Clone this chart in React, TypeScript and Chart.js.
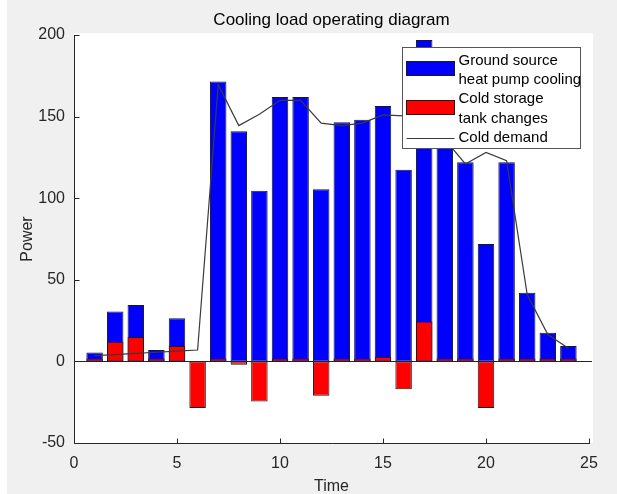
import React, { useEffect, useRef } from "react";
import { Chart, registerables } from "chart.js";

Chart.register(...registerables);

// ---- data ----
const hours = [1, 2, 3, 4, 5, 6, 7, 8, 9, 10, 11, 12, 13, 14, 15, 16, 17, 18, 19, 20, 21, 22, 23, 24];
const heatPumpCooling = [5.4, 30.5, 34.6, 7, 26.5, 0, 171.5, 141, 104.5, 162, 162, 105.5, 146.5, 148, 156.5, 117.5, 197, 140, 122, 72, 122, 42, 17.5, 9.5];
const storageChange = [1.8, 12, 15, 1.8, 9.5, -28.5, 1.8, -2, -24.5, 1.8, 1.8, -21, 1.8, 1.8, 2.8, -17, 24.5, 1.8, 1.8, -28.5, 1.8, 1.8, 1.8, 1.8];
const coldDemand = [3.5, 4.2, 4.9, 5.6, 6.3, 7, 169.5, 144.5, 151.5, 160, 160, 146, 144.5, 146, 151, 150.5, 148, 136, 121, 128, 123, 41, 16.5, 8];
const xTicks = [0, 5, 10, 15, 20, 25];
const yTicks = [-50, 0, 50, 100, 150, 200];
const chartTitle = "Cooling load operating diagram";
const xTitle = "Time";
const yTitle = "Power";
const seriesNames = ["Ground source heat pump cooling", "Cold storage tank changes", "Cold demand"];
const legendLines = [["Ground source", "heat pump cooling"], ["Cold storage", "tank changes"], ["Cold demand"]];

const FONT = '"Liberation Sans", Arial, Helvetica, sans-serif';
const AXIS = "#262626";
const BLUE = "#0000ff";
const RED = "#ff0000";
const LINE = "#3a3a3a";

const figurePlugin = {
  id: "figure",
  beforeDraw(chart: any) {
    const { ctx, chartArea: a } = chart;
    ctx.save();
    ctx.fillStyle = "#f0f0f0";
    ctx.fillRect(0, 0, chart.width, chart.height);
    ctx.fillStyle = "#ffffff";
    ctx.fillRect(a.left, a.top - 2, a.right - a.left + 4, a.bottom - a.top + 2);
    ctx.restore();
  },
  beforeDatasetsDraw(chart: any) {
    const { ctx, chartArea: a } = chart;
    const y0 = Math.round(chart.scales.y.getPixelForValue(0)) + 0.5;
    ctx.save();
    ctx.strokeStyle = AXIS;
    ctx.lineWidth = 1;
    ctx.beginPath();
    ctx.moveTo(a.left, y0);
    ctx.lineTo(a.right + 3, y0);
    ctx.stroke();
    ctx.restore();
  },
  afterDraw(chart: any) {
    const { ctx, chartArea: a } = chart;
    const xs = chart.scales.x;
    const ys = chart.scales.y;
    ctx.save();
    // axes
    ctx.strokeStyle = AXIS;
    ctx.lineWidth = 1;
    const lx = Math.round(a.left) + 0.5;
    const by = Math.round(a.bottom) + 0.5;
    ctx.beginPath();
    ctx.moveTo(lx, a.top);
    ctx.lineTo(lx, by);
    ctx.lineTo(a.right + 1, by);
    yTicks.forEach((v) => {
      const y = Math.round(ys.getPixelForValue(v)) + 0.5;
      ctx.moveTo(lx, y);
      ctx.lineTo(lx + 5, y);
    });
    xTicks.forEach((v) => {
      const x = Math.round(xs.getPixelForValue(v)) + 0.5;
      ctx.moveTo(x, by);
      ctx.lineTo(x, by - 5);
    });
    ctx.stroke();

    // title
    ctx.fillStyle = "#000";
    ctx.font = `17px ${FONT}`;
    ctx.textAlign = "center";
    ctx.textBaseline = "middle";
    ctx.fillText(chartTitle, (a.left + a.right) / 2, a.top - 15);

    // legend
    const w = 178;
    const h = 101;
    const gx = Math.round(a.right - 9 - w) + 0.5;
    const gy = Math.round(a.top + 12) + 0.5;
    ctx.fillStyle = "#fff";
    ctx.fillRect(gx, gy, w, h);
    ctx.strokeStyle = "#555";
    ctx.strokeRect(gx, gy, w, h);

    const rowH = 19.4;
    const textX = gx + 56;
    ctx.font = `15px ${FONT}`;
    ctx.textAlign = "left";
    ctx.fillStyle = "#000";
    let row = 0;
    legendLines.forEach((lines) => {
      lines.forEach((t) => {
        ctx.fillText(t, textX, gy + 13 + row * rowH);
        row++;
      });
    });
    // swatches
    const sw = 48;
    const sh = 14;
    const sx = gx + 4;
    ctx.strokeStyle = "#1a1a1a";
    ctx.fillStyle = BLUE;
    ctx.fillRect(sx, gy + 14, sw, sh);
    ctx.strokeRect(sx, gy + 14, sw, sh);
    ctx.fillStyle = RED;
    ctx.fillRect(sx, gy + 53, sw, sh);
    ctx.strokeRect(sx, gy + 53, sw, sh);
    ctx.strokeStyle = LINE;
    ctx.beginPath();
    const ly = Math.round(gy + 13 + 4 * rowH) + 0.5;
    ctx.moveTo(sx, ly);
    ctx.lineTo(sx + sw, ly);
    ctx.stroke();
    ctx.restore();
  },
};

export default function App() {
  const ref = useRef<HTMLCanvasElement | null>(null);

  useEffect(() => {
    if (!ref.current) return;
    const chart = new Chart(ref.current, {
      type: "bar",
      data: {
        datasets: [
          {
            type: "line",
            label: seriesNames[2],
            data: hours.map((h, i) => ({ x: h, y: coldDemand[i] })),
            borderColor: LINE,
            borderWidth: 1.2,
            pointRadius: 0,
            tension: 0,
            fill: false,
            order: 0,
          } as any,
          {
            type: "bar",
            label: seriesNames[1],
            data: hours.map((h, i) => ({ x: h, y: storageChange[i] })),
            backgroundColor: RED,
            borderColor: "#1a1a1a",
            borderWidth: 1,
            borderSkipped: false,
            barPercentage: 0.8,
            categoryPercentage: 1,
            order: 1,
          },
          {
            type: "bar",
            label: seriesNames[0],
            data: hours.map((h, i) => ({ x: h, y: heatPumpCooling[i] })),
            backgroundColor: BLUE,
            borderColor: "#1a1a1a",
            borderWidth: 1,
            borderSkipped: false,
            barPercentage: 0.8,
            categoryPercentage: 1,
            order: 2,
          },
        ],
      },
      options: {
        responsive: false,
        animation: false,
        devicePixelRatio: 1,
        layout: { padding: { top: 35, right: 28, left: 0, bottom: 0 } },
        plugins: {
          legend: { display: false },
          tooltip: { enabled: false },
          title: { display: false },
        },
        scales: {
          x: {
            type: "linear",
            stacked: true,
            offset: false,
            min: 0,
            max: 25,
            afterFit: (s: any) => {
              s.height = 51;
            },
            afterBuildTicks: (s: any) => {
              s.ticks = xTicks.map((v) => ({ value: v }));
            },
            grid: { display: false, drawTicks: false },
            border: { display: false },
            ticks: { padding: 11, color: AXIS, font: { size: 16, family: FONT }, maxRotation: 0 },
            title: { display: true, text: xTitle, color: AXIS, font: { size: 16, family: FONT }, padding: { top: 0, bottom: -2 } },
          },
          y: {
            type: "linear",
            stacked: false,
            min: -50,
            max: 200,
            afterFit: (s: any) => {
              s.width = 67;
            },
            afterBuildTicks: (s: any) => {
              s.ticks = yTicks.map((v) => ({ value: v }));
            },
            grid: { display: false, drawTicks: false },
            border: { display: false },
            ticks: { padding: 9, color: AXIS, font: { size: 16, family: FONT } },
            title: { display: true, text: yTitle, color: AXIS, font: { size: 16, family: FONT }, padding: { top: 11, bottom: 0 } },
          },
        },
      } as any,
      plugins: [figurePlugin],
    });
    return () => chart.destroy();
  }, []);

  return (
    <div style={{ position: "fixed", left: 0, top: 0, width: 617, height: 494, background: "#ffffff" }}>
      <canvas
        ref={ref}
        width={610}
        height={494}
        style={{ position: "absolute", left: 7, top: 0, width: 610, height: 494 }}
      />
    </div>
  );
}
